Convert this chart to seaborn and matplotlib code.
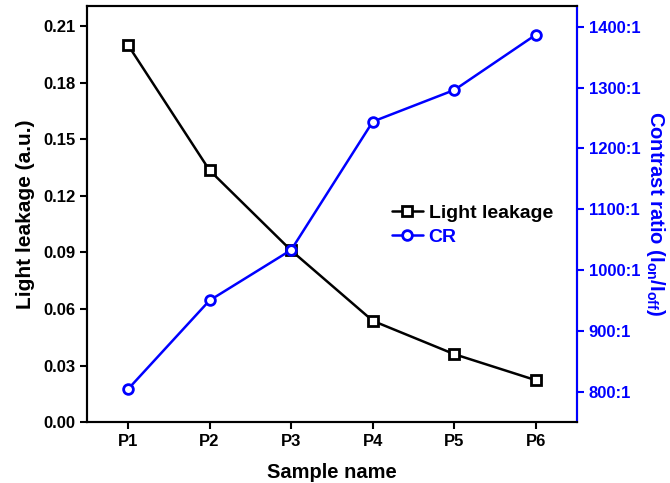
import matplotlib
matplotlib.use("Agg")
import matplotlib.pyplot as plt
import seaborn as sns
import pandas as pd

# Data
samples = ["P1", "P2", "P3", "P4", "P5", "P6"]
light_leakage = [0.200, 0.1335, 0.091, 0.0537, 0.036, 0.0222]
contrast_ratio = [804, 950, 1033, 1244, 1296, 1387]
left_ticks = [0.00, 0.03, 0.06, 0.09, 0.12, 0.15, 0.18, 0.21]
right_ticks = [800, 900, 1000, 1100, 1200, 1300, 1400]

df = pd.DataFrame({"sample": samples, "leak": light_leakage, "cr": contrast_ratio})

sns.set_style("ticks")
plt.rcParams["font.family"] = ["Liberation Sans", "DejaVu Sans"]
plt.rcParams["font.weight"] = "bold"
plt.rcParams["text.color"] = "black"
plt.rcParams["axes.labelcolor"] = "black"
plt.rcParams["mathtext.fontset"] = "custom"
plt.rcParams["mathtext.bf"] = "Liberation Sans:bold"
plt.rcParams["mathtext.rm"] = "Liberation Sans:bold"

fig = plt.figure(figsize=(6.7, 4.83), dpi=100)
ax = fig.add_axes([0.13, 0.126, 0.731, 0.8616])
ax2 = ax.twinx()

sns.lineplot(data=df, x="sample", y="leak", ax=ax, color="black", lw=1.8,
             marker="s", markersize=6.5, markeredgewidth=2,
             markerfacecolor="white", markeredgecolor="black",
             label="Light leakage", legend=False)
sns.lineplot(data=df, x="sample", y="cr", ax=ax2, color="blue", lw=1.8,
             marker="o", markersize=7, markeredgewidth=2,
             markerfacecolor="white", markeredgecolor="blue",
             label="CR", legend=False)

ax.set_xlim(-0.5, 5.5)
ax.set_ylim(0, 0.2206)
ax.set_yticks(left_ticks)
ax.set_yticklabels([f"{t:.2f}" for t in left_ticks])
ax2.set_ylim(750, 1434)
ax2.set_yticks(right_ticks)
ax2.set_yticklabels([f"{t}:1" for t in right_ticks])

ax.set_xlabel("Sample name", fontsize=14.5, fontweight="bold", labelpad=10,
              color="black")
ax.set_ylabel("Light leakage (a.u.)", fontsize=15, fontweight="bold", labelpad=6,
              color="black")
ax2.set_ylabel(r"Contrast ratio (I$_\mathbf{on}$/I$_\mathbf{off}$)",
               fontsize=14.5, fontweight="bold", color="blue", labelpad=3,
               rotation=270, va="bottom")

for a in (ax, ax2):
    for s in a.spines.values():
        s.set_linewidth(1.5)
        s.set_color("black")
ax2.spines["right"].set_color("blue")

ax.tick_params(axis="both", direction="out", length=5, width=1.5,
               labelsize=12, colors="black")
ax2.tick_params(axis="y", direction="out", length=5, width=1.5,
                labelsize=12, colors="blue")
for lbl in ax.get_xticklabels() + ax.get_yticklabels() + ax2.get_yticklabels():
    lbl.set_fontweight("bold")

h1, l1 = ax.get_legend_handles_labels()
h2, l2 = ax2.get_legend_handles_labels()
leg = ax2.legend(h1 + h2, l1 + l2, loc="upper left",
                 bbox_to_anchor=(0.586, 0.565), frameon=False,
                 fontsize=14, handlelength=1.6, handletextpad=0.3,
                 labelspacing=0.3, labelcolor=["black", "blue"])
for t in leg.get_texts():
    t.set_fontweight("bold")

fig.savefig("out.png", dpi=100)
